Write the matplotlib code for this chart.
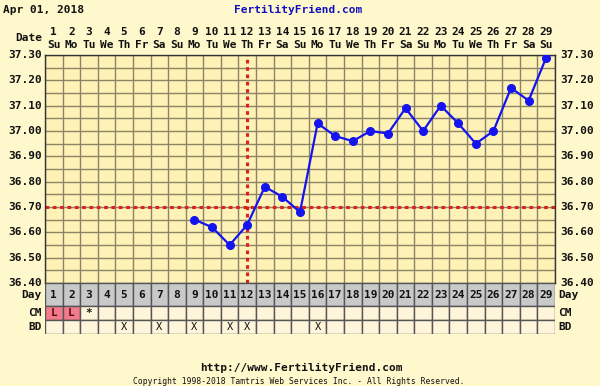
#!/usr/bin/env python3
"""Fertility chart (BBT) for cycle starting Apr 01, 2018 -> out.png"""
import matplotlib
matplotlib.use("Agg")
import matplotlib.pyplot as plt
from matplotlib.patches import Rectangle

# ---- data -------------------------------------------------------------
days = list(range(1, 30))
weekdays = ["Su", "Mo", "Tu", "We", "Th", "Fr", "Sa"] * 5
temp_days = list(range(9, 30))
temps = [36.65, 36.62, 36.55, 36.63, 36.78, 36.74, 36.68, 37.03, 36.98,
         36.96, 37.00, 36.99, 37.09, 37.00, 37.10, 37.03, 36.95, 37.00,
         37.17, 37.12, 37.29]
coverline = 36.70
ovulation_day = 12
yticks = [36.40, 36.50, 36.60, 36.70, 36.80, 36.90, 37.00, 37.10, 37.20, 37.30]
cm_marks = {1: "L", 2: "L", 3: "*"}
bd_days = [5, 7, 9, 11, 12, 16]

# ---- style ------------------------------------------------------------
OUTER_BG = "#FFF8CC"
PLOT_BG = "#FFF2B6"
GRID = "#8C8466"
BLUE = "#1414F0"
RED = "#DD2020"
GREY_ROW = "#C9C9C9"
CELL_BG = "#FFF5DA"
PINK = "#F27A8C"
INK = "#111111"
FONT = "DejaVu Sans Mono"
FS = 8
W, H = 600, 386

fig = plt.figure(figsize=(W / 100, H / 100), dpi=100, facecolor=OUTER_BG)


def fig_rect(x0, y0, x1, y1):
    # pixel box (top-left origin) -> figure fraction rect
    return [x0 / W, 1 - y1 / H, (x1 - x0) / W, (y1 - y0) / H]


def label(axis, x, y, s, transform=None, **kw):
    opts = dict(ha="center", va="center", fontsize=FS, fontweight="bold",
                family=FONT, color=INK)
    opts.update(kw)
    if transform is not None:
        opts["transform"] = transform
    axis.text(x, y, s, **opts)


# ---- temperature axes ------------------------------------------------
ax = fig.add_axes(fig_rect(45, 55, 555, 283))
ax.set_facecolor(PLOT_BG)
ax.set_xlim(0.5, 29.5)
ax.set_ylim(36.40, 37.30)
for k in range(30):
    ax.axvline(0.5 + k, color=GRID, lw=1.0, zorder=1)
for k in range(19):
    ax.axhline(36.40 + 0.05 * k, color=GRID, lw=1.0, zorder=1)
ax.axhline(coverline, color=RED, lw=2.2, ls=(0, (1.2, 1.2)), zorder=2)
ax.axvline(ovulation_day, color=RED, lw=2.2, ls=(0, (1.2, 1.2)), zorder=2)
ax.plot(temp_days, temps, "-o", color=BLUE, lw=1.6, markersize=5.5, zorder=3)
ax.set_xticks([])
ax.set_yticks([])
for s in ax.spines.values():
    s.set_color("#333333")
    s.set_linewidth(1.0)

# y labels both sides
ytr = ax.get_yaxis_transform()
for v in yticks:
    label(ax, -0.006, v, f"{v:.2f}", ytr, ha="right")
    label(ax, 1.01, v, f"{v:.2f}", ytr, ha="left")

# day / weekday header
xtr = ax.get_xaxis_transform()
for d, wd in zip(days, weekdays):
    label(ax, d, 1.1, str(d), xtr)
    label(ax, d, 1.045, wd, xtr)
label(ax, -0.006, 1.075, "Date", ax.transAxes, ha="right")

# ---- table axes -------------------------------------------------------
tx = fig.add_axes(fig_rect(45, 283, 555, 334))
tx.set_xlim(0.5, 29.5)
tx.set_ylim(0, 51)
tx.axis("off")
rows = [("Day", 28, 23), ("CM", 14, 14), ("BD", 0, 14)]
ttr = tx.get_yaxis_transform()
for name, y0, h in rows:
    for d in days:
        fc = GREY_ROW if name == "Day" else CELL_BG
        if name == "CM" and cm_marks.get(d) == "L":
            fc = PINK
        tx.add_patch(Rectangle((d - 0.5, y0), 1, h, facecolor=fc,
                               edgecolor="#555555", lw=1.0))
    label(tx, -0.006, y0 + h / 2, name, ttr, ha="right")
    label(tx, 1.006, y0 + h / 2, name, ttr, ha="left")
for d in days:
    label(tx, d, 28 + 11.5, str(d))
for d, m in cm_marks.items():
    label(tx, d, 21, m, color="#5A0A0A" if m == "L" else INK)
for d in bd_days:
    label(tx, d, 7, "X", fontsize=7.5, fontweight="normal")

# ---- titles / footer -------------------------------------------------
label(fig, 3 / W, 1 - 10 / H, "Apr 01, 2018", ha="left")
label(fig, 298 / W, 1 - 10 / H, "FertilityFriend.com", color="#1010C0")
label(fig, 301 / W, 1 - 368 / H, "http://www.FertilityFriend.com")
label(fig, 299 / W, 1 - 381 / H,
      "Copyright 1998-2018 Tamtris Web Services Inc. - All Rights Reserved.",
      fontsize=5.8, fontweight="normal")

fig.savefig("out.png", dpi=100, facecolor=OUTER_BG)
